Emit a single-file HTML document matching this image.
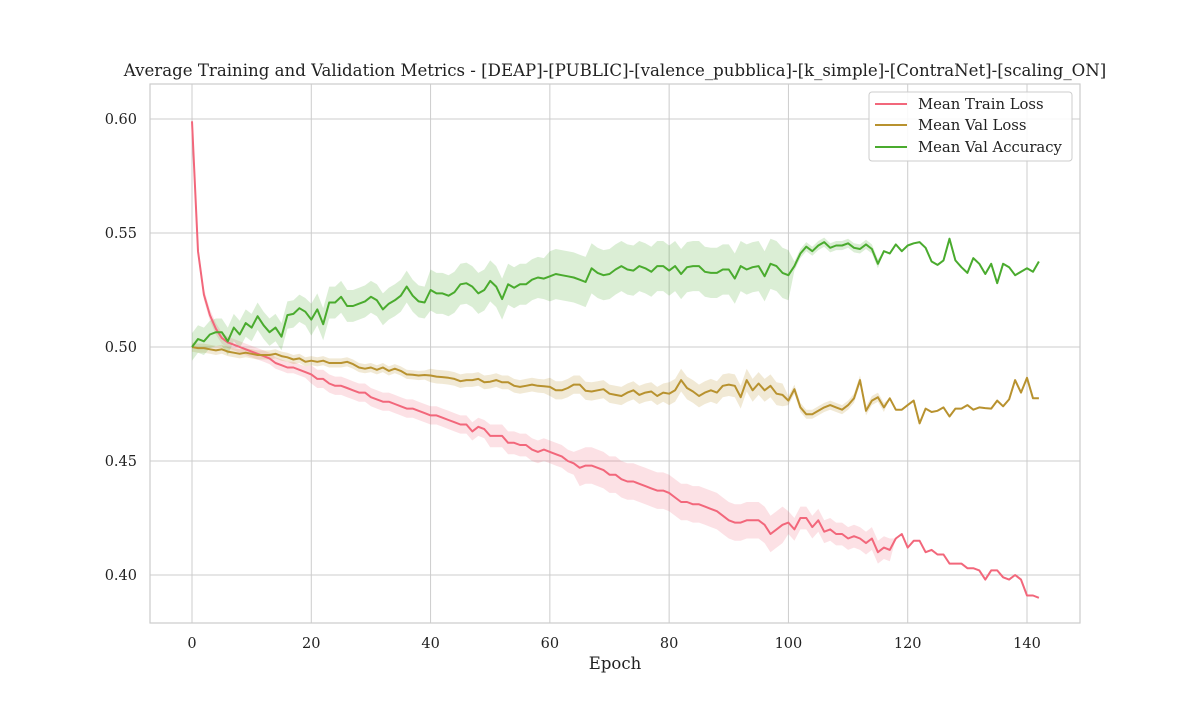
<!DOCTYPE html>
<html><head><meta charset="utf-8"><style>
body{margin:0;background:#fff}
svg text{font-family:"DejaVu Serif","Liberation Serif",serif;fill:#222}
</style></head><body>
<svg id="chart" width="1200" height="700" xmlns="http://www.w3.org/2000/svg">
<rect width="1200" height="700" fill="#fff"/>
<text x="615" y="76" text-anchor="middle" font-size="16.6">Average Training and Validation Metrics - [DEAP]-[PUBLIC]-[valence_pubblica]-[k_simple]-[ContraNet]-[scaling_ON]</text>
<g id="grid"></g><g id="bands"></g><g id="lines"></g><g id="axes"></g>
<g>
<rect x="869" y="92" width="203" height="69" rx="3" fill="#fff" fill-opacity="0.85" stroke="#ccc"/>
<line x1="875" y1="104" x2="907" y2="104" stroke="#f2677b" stroke-width="2"/>
<text x="918" y="109" font-size="14.8">Mean Train Loss</text>
<line x1="875" y1="125" x2="907" y2="125" stroke="#b8922f" stroke-width="2"/>
<text x="918" y="130" font-size="14.8">Mean Val Loss</text>
<line x1="875" y1="147" x2="907" y2="147" stroke="#4aab2e" stroke-width="2"/>
<text x="918" y="152" font-size="14.8">Mean Val Accuracy</text>
</g>
</svg>
<script>
const xTicks=[0,20,40,60,80,100,120,140];
const yTicks=[0.40,0.45,0.50,0.55,0.60];
const trainLoss=[0.599,0.542,0.523,0.514,0.508,0.504,0.502,0.501,0.500,0.499,0.498,0.497,0.496,0.495,0.493,0.492,0.491,0.491,0.490,0.489,0.488,0.486,0.486,0.484,0.483,0.483,0.482,0.481,0.480,0.480,0.478,0.477,0.476,0.476,0.475,0.474,0.473,0.473,0.472,0.471,0.470,0.470,0.469,0.468,0.467,0.466,0.466,0.463,0.465,0.464,0.461,0.461,0.461,0.458,0.458,0.457,0.457,0.455,0.454,0.455,0.454,0.453,0.452,0.450,0.449,0.447,0.448,0.448,0.447,0.446,0.444,0.444,0.442,0.441,0.441,0.440,0.439,0.438,0.437,0.437,0.436,0.434,0.432,0.432,0.431,0.431,0.430,0.429,0.428,0.426,0.424,0.423,0.423,0.424,0.424,0.424,0.422,0.418,0.420,0.422,0.423,0.420,0.425,0.425,0.421,0.424,0.419,0.420,0.418,0.418,0.416,0.417,0.416,0.414,0.416,0.410,0.412,0.411,0.416,0.418,0.412,0.415,0.415,0.410,0.411,0.409,0.409,0.405,0.405,0.405,0.403,0.403,0.402,0.398,0.402,0.402,0.399,0.398,0.400,0.398,0.391,0.391,0.390];
const valLoss=[0.500,0.4995,0.4995,0.499,0.4985,0.499,0.498,0.4975,0.497,0.4975,0.497,0.4965,0.4965,0.4965,0.497,0.496,0.4955,0.4945,0.495,0.4935,0.494,0.4935,0.494,0.493,0.493,0.493,0.4935,0.4925,0.491,0.4905,0.491,0.490,0.491,0.4895,0.4905,0.4895,0.488,0.4878,0.4875,0.4877,0.4875,0.487,0.4868,0.4865,0.486,0.485,0.4855,0.4855,0.486,0.4845,0.4848,0.4855,0.4845,0.4845,0.483,0.4825,0.483,0.4835,0.483,0.4828,0.4825,0.481,0.481,0.482,0.4835,0.4835,0.4808,0.4805,0.481,0.4815,0.4795,0.479,0.4785,0.480,0.481,0.479,0.480,0.4805,0.4785,0.480,0.4795,0.481,0.4855,0.482,0.4805,0.4785,0.480,0.481,0.480,0.483,0.4835,0.483,0.478,0.4855,0.481,0.484,0.481,0.483,0.4795,0.479,0.4765,0.4815,0.4735,0.4705,0.4705,0.472,0.4735,0.4745,0.4735,0.4725,0.4745,0.4775,0.4855,0.472,0.4765,0.478,0.4735,0.4775,0.4725,0.4725,0.4745,0.4765,0.4665,0.473,0.4715,0.472,0.4735,0.4695,0.473,0.473,0.4745,0.4725,0.4735,0.4732,0.473,0.4765,0.474,0.477,0.4855,0.480,0.4865,0.4775,0.4775];
const valAcc=[0.500,0.5035,0.5025,0.5055,0.5065,0.5065,0.5025,0.5085,0.5055,0.5105,0.5085,0.5135,0.5095,0.5065,0.5085,0.5045,0.514,0.5145,0.517,0.5155,0.512,0.5165,0.510,0.5195,0.5195,0.522,0.518,0.518,0.519,0.520,0.522,0.5205,0.5165,0.519,0.5205,0.5225,0.5265,0.5225,0.520,0.5195,0.525,0.5235,0.5235,0.5225,0.524,0.5275,0.528,0.5265,0.5235,0.525,0.529,0.5265,0.521,0.5275,0.526,0.5275,0.5275,0.5295,0.5305,0.530,0.531,0.532,0.5315,0.531,0.5305,0.5295,0.5285,0.5345,0.5325,0.5315,0.532,0.534,0.5355,0.534,0.5335,0.5355,0.5345,0.533,0.5355,0.5355,0.5335,0.5355,0.532,0.535,0.5355,0.5355,0.533,0.5325,0.5325,0.534,0.534,0.530,0.5355,0.534,0.535,0.5355,0.531,0.5365,0.5355,0.5325,0.5315,0.5355,0.541,0.544,0.542,0.5445,0.546,0.5435,0.5445,0.5445,0.5455,0.5435,0.543,0.545,0.543,0.5365,0.542,0.541,0.545,0.542,0.5445,0.5455,0.546,0.5435,0.5375,0.536,0.538,0.5475,0.538,0.535,0.5325,0.539,0.5365,0.532,0.5365,0.528,0.5365,0.535,0.5315,0.533,0.5345,0.533,0.5375];
const trainStd=[
0.0025,0.0025,0.0025,0.0025,0.0025,0.0025,0.0025,0.0025,0.0025,0.0025,
0.0025,0.0025,0.0025,0.0025,0.0025,0.0025,0.0025,0.0025,0.0025,0.0025,
0.004,0.004,0.004,0.004,0.004,0.004,0.004,0.004,0.004,0.004,
0.004,0.004,0.004,0.004,0.004,0.004,0.004,0.004,0.004,0.004,
0.004,0.004,0.004,0.004,0.004,0.004,0.004,0.004,0.004,0.004,
0.005,0.005,0.005,0.005,0.005,0.005,0.005,0.005,0.005,0.005,
0.005,0.005,0.005,0.005,0.005,0.008,0.008,0.008,0.008,0.008,
0.008,0.008,0.008,0.008,0.008,0.008,0.008,0.008,0.008,0.008,
0.008,0.008,0.008,0.008,0.008,0.008,0.008,0.008,0.008,0.008,
0.008,0.008,0.008,0.008,0.008,0.008,0.008,0.008,0.008,0.008,
0.005,0.005,0.005,0.005,0.005,0.005,0.005,0.005,0.005,0.005,
0.005,0.005,0.005,0.005,0.005,0.005,0.005,0.005,0,0,
0,0,0,0,0,0,0,0,0,0,0,0,0,0,0,0,0,0,0,0,0,0,0];
const valStd=[
0.002,0.002,0.002,0.002,0.002,0.002,0.002,0.002,0.002,0.002,
0.002,0.002,0.002,0.002,0.002,0.002,0.002,0.002,0.002,0.002,
0.002,0.002,0.002,0.002,0.002,0.002,0.002,0.002,0.002,0.002,
0.002,0.002,0.002,0.002,0.002,0.002,0.002,0.002,0.002,0.002,
0.003,0.003,0.003,0.003,0.003,0.003,0.003,0.003,0.003,0.003,
0.003,0.003,0.003,0.003,0.003,0.003,0.003,0.003,0.003,0.003,
0.004,0.004,0.004,0.004,0.004,0.004,0.004,0.004,0.004,0.004,
0.004,0.004,0.004,0.004,0.004,0.004,0.004,0.004,0.004,0.004,
0.005,0.005,0.005,0.005,0.005,0.005,0.005,0.005,0.005,0.005,
0.005,0.005,0.005,0.005,0.005,0.005,0.005,0.005,0.005,0.005,
0.002,0.002,0.002,0.002,0.002,0.002,0.002,0.002,0.002,0.002,
0.002,0.002,0.002,0.002,0.002,0.002,0.002,0,0,0,
0,0,0,0,0,0,0,0,0,0,0,0,0,0,0,0,0,0,0,0,0,0,0];
const accStd=[
0.006,0.006,0.006,0.006,0.006,0.006,0.006,0.006,0.006,0.006,
0.006,0.006,0.006,0.006,0.006,0.006,0.006,0.006,0.006,0.006,
0.007,0.007,0.007,0.007,0.007,0.007,0.007,0.007,0.007,0.007,
0.007,0.007,0.007,0.007,0.007,0.007,0.007,0.007,0.007,0.007,
0.009,0.009,0.009,0.009,0.009,0.009,0.009,0.009,0.009,0.009,
0.009,0.009,0.009,0.009,0.009,0.009,0.009,0.009,0.009,0.009,
0.011,0.011,0.011,0.011,0.011,0.011,0.011,0.011,0.011,0.011,
0.011,0.011,0.011,0.011,0.011,0.011,0.011,0.011,0.011,0.011,
0.011,0.011,0.011,0.011,0.011,0.011,0.011,0.011,0.011,0.011,
0.011,0.011,0.011,0.011,0.011,0.011,0.011,0.011,0.011,0.011,
0.011,0.002,0.002,0.002,0.002,0.002,0.002,0.002,0.002,0.002,
0.002,0.002,0.002,0.002,0.002,0.002,0,0,0,0,
0,0,0,0,0,0,0,0,0,0,0,0,0,0,0,0,0,0,0,0,0,0,0];

const NS='http://www.w3.org/2000/svg';
const L=150,R=1080,T=84,B=623;
const xS=e=>192+e*(1027-192)/140;
const yS=v=>575-(v-0.40)*(575-119)/0.20;
function mk(tag,parent,attrs){const el=document.createElementNS(NS,tag);for(const k in attrs)el.setAttribute(k,attrs[k]);document.getElementById(parent).appendChild(el);return el;}

xTicks.forEach(t=>{
  const g=mk('line','grid',{x1:xS(t),x2:xS(t),y1:T,y2:B,stroke:'#cccccc','stroke-width':1});
  
  
  const tx=mk('text','axes',{x:xS(t),y:648,'text-anchor':'middle','font-size':14.5});
  tx.textContent=t;
  
  
});
yTicks.forEach(t=>{
  const g=mk('line','grid',{x1:L,x2:R,y1:yS(t),y2:yS(t),stroke:'#cccccc','stroke-width':1});
  
  
  const tx=mk('text','axes',{x:137,y:yS(t)+5,'text-anchor':'end','font-size':14.5});
  tx.textContent=t.toFixed(2);
  
  
});
const frame=mk('rect','axes',{x:L,y:T,width:R-L,height:B-T,fill:'none',stroke:'#cccccc','stroke-width':1.2});


const xl=mk('text','axes',{x:615,y:669,'text-anchor':'middle','font-size':16.5});
xl.textContent='Epoch';



function series(vals,std,color,name){
  let up='',lo='';
  vals.forEach((v,i)=>{up+=(i?'L':'M')+xS(i).toFixed(1)+','+yS(v+std[i]).toFixed(1);});
  for(let i=vals.length-1;i>=0;i--)lo+='L'+xS(i).toFixed(1)+','+yS(vals[i]-std[i]).toFixed(1);
  const b=mk('path','bands',{d:up+lo+'Z',fill:color,'fill-opacity':0.2,stroke:'none'});
  
  
  let d='';vals.forEach((v,i)=>{d+=(i?'L':'M')+xS(i).toFixed(1)+','+yS(v).toFixed(1);});
  const p=mk('path','lines',{d:d,fill:'none',stroke:color,'stroke-width':2,'stroke-linejoin':'round'});
  
  
}
series(trainLoss,trainStd,'#f2677b','train-loss');
series(valLoss,valStd,'#b8922f','val-loss');
series(valAcc,accStd,'#4aab2e','val-accuracy');
</script>
</body></html>
